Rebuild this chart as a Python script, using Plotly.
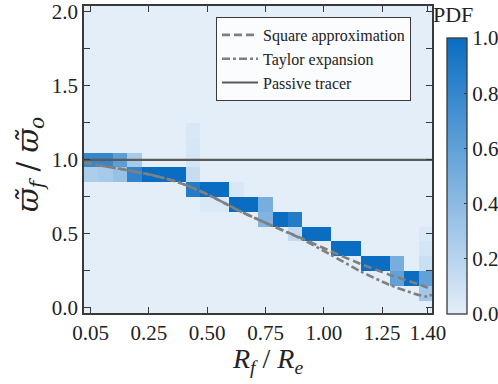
import plotly.graph_objects as go

# ---------------- data ----------------
# x bins are indexed 0..23; labelled at selected indices
x_tick_idx = [0, 4, 8, 12, 16, 20, 23.15]
x_tick_text = ["0.05", "0.25", "0.50", "0.75", "1.00", "1.25", "1.40"]
n_cols = 24
y_bins = [round(0.1 * i, 1) for i in range(21)]  # 0.0 .. 2.0
y_tick_vals = [0, 0.5, 1.0, 1.5, 2.0]
y_tick_text = ["0.0", "0.5", "1.0", "1.5", "2.0"]
cb_tick_vals = [0, 0.2, 0.4, 0.6, 0.8, 1.0]
cb_tick_text = ["0.0", "0.2", "0.4", "0.6", "0.8", "1.0"]

# non-zero PDF cells: column index, row value, pdf
cell_col = [0, 0, 1, 1, 2, 2, 3, 3, 4, 5, 6,
            7, 7, 7, 7, 7, 8, 9, 8, 9, 10,
            10, 11, 12, 12, 13, 14, 14, 15, 16, 17, 18,
            19, 20, 21, 21, 22, 23, 23, 23, 23, 23]
cell_row = [1.0, 0.9, 1.0, 0.9, 1.0, 0.9, 1.0, 0.9, 0.9, 0.9, 0.9,
            1.2, 1.1, 1.0, 0.9, 0.8, 0.8, 0.8, 0.7, 0.7, 0.8,
            0.7, 0.7, 0.7, 0.6, 0.6, 0.6, 0.5, 0.5, 0.5, 0.4, 0.4,
            0.3, 0.3, 0.3, 0.2, 0.2, 0.5, 0.4, 0.3, 0.2, 0.1]
cell_pdf = [0.80, 0.25, 0.80, 0.28, 0.62, 0.35, 0.28, 0.82, 1.0, 1.0, 1.0,
            0.05, 0.06, 0.07, 0.14, 0.88, 1.0, 1.0, 0.04, 0.04, 0.05,
            1.0, 1.0, 0.50, 0.45, 1.0, 0.88, 0.15, 1.0, 1.0, 1.0, 1.0,
            1.0, 1.0, 0.50, 0.60, 1.0, 0.04, 0.07, 0.12, 0.60, 0.30]

# model curves (x in bin-index units)
sq_x = [-0.46, 2.0, 4.1, 6.1, 8.2, 10.2, 12.3, 14.4, 16.4, 18.5, 20.5, 22.6, 23.43]
sq_y = [0.980, 0.939, 0.899, 0.845, 0.757, 0.655, 0.561, 0.473, 0.385, 0.297, 0.223, 0.155, 0.122]
ty_x = [-0.46, 2.0, 4.1, 6.1, 8.2, 10.2, 12.3, 14.4, 16.4, 18.5, 20.5, 21.6, 22.6, 23.1, 23.43]
ty_y = [0.980, 0.939, 0.899, 0.845, 0.757, 0.655, 0.561, 0.468, 0.362, 0.247, 0.155, 0.115, 0.084, 0.076, 0.088]
pt_x = [-0.46, 23.45]
pt_y = [1.0, 1.0]

# ---------------- build matrix ----------------
z = [[0.0] * n_cols for _ in y_bins]
for c, r, p in zip(cell_col, cell_row, cell_pdf):
    z[y_bins.index(r)][c] = p

FONT = "'Liberation Serif', 'Times New Roman', Times, serif"
AX = "#3a3a3a"
PW = 498 - 84 - 66
PH = 384 - 6 - 71

fig = go.Figure()
fig.add_trace(go.Heatmap(
    z=z, x=list(range(n_cols)), y=y_bins, zmin=0, zmax=1,
    colorscale=[[0, "#e3eef9"], [1, "#0a6dc1"]],
    showscale=True, hoverinfo="skip",
    colorbar=dict(
        thickness=20, len=276 / PH, lenmode="fraction",
        x=(447 - 84) / PW, xanchor="left", xpad=0,
        y=(313 - 314) / PH, yanchor="bottom", ypad=0,
        outlinewidth=1.3, outlinecolor=AX,
        tickvals=cb_tick_vals, ticktext=cb_tick_text,
        ticks="inside", ticklen=3, tickcolor=AX,
        tickfont=dict(family=FONT, size=21, color="#222"),
    ),
    showlegend=False,
))

fig.add_trace(go.Scatter(x=sq_x, y=sq_y, mode="lines", name="Square approximation",
                         line=dict(color="#808080", width=2.6, dash="8px,4px", shape="spline", smoothing=0.8)))
fig.add_trace(go.Scatter(x=ty_x, y=ty_y, mode="lines", name="Taylor expansion",
                         line=dict(color="#808080", width=2.6, dash="8px,3px,3px,3px", shape="spline", smoothing=0.8)))
fig.add_trace(go.Scatter(x=pt_x, y=pt_y, mode="lines", name="Passive tracer",
                         line=dict(color="#5a5a5a", width=2.2)))

fig.add_annotation(text="PDF", xref="paper", yref="paper",
                   x=(453 - 84) / PW, y=(313 - 14) / PH, showarrow=False,
                   xanchor="center", yanchor="middle",
                   font=dict(family=FONT, size=22, color="#222"))

fig.add_annotation(text="<i>R</i><sub><i>f</i></sub> / <i>R</i><sub><i>e</i></sub>",
                   xref="paper", yref="paper",
                   x=(267 - 84) / PW, y=(313 - 341) / PH, showarrow=False,
                   xanchor="center", yanchor="top",
                   font=dict(family=FONT, size=28, color="#222"))

fig.add_annotation(text="<i>ϖ̃</i><sub><i>f</i></sub> / <i>ϖ̃</i><sub><i>o</i></sub>",
                   xref="paper", yref="paper", textangle=-90,
                   x=(30 - 84) / PW, y=(313 - 165) / PH, showarrow=False,
                   xanchor="center", yanchor="middle",
                   font=dict(family="'DejaVu Serif', serif", size=29, color="#222"))

fig.update_layout(
    width=498, height=384,
    margin=dict(l=84, r=66, t=6, b=71, autoexpand=False),
    paper_bgcolor="white", plot_bgcolor="#e3eef9",
    font=dict(family=FONT, size=21, color="#222"),
    legend=dict(
        x=(216 - 84) / PW, y=(313 - 17) / PH,
        xanchor="left", yanchor="top",
        bgcolor="rgba(255,255,255,0.8)", bordercolor=AX, borderwidth=1,
        font=dict(family=FONT, size=16, color="#222"),
        itemwidth=36, tracegroupgap=0,
    ),
    xaxis=dict(
        range=[-0.46, 23.43], tickvals=x_tick_idx, ticktext=x_tick_text,
        showline=True, linecolor=AX, linewidth=1.6, mirror="ticks",
        ticks="inside", ticklen=6, tickwidth=1.4, tickcolor=AX,
        showgrid=False, zeroline=False,
        tickfont=dict(family=FONT, size=21),
    ),
    yaxis=dict(
        range=[-0.036, 2.04], tickvals=y_tick_vals, ticktext=y_tick_text,
        showline=True, linecolor=AX, linewidth=1.6, mirror="ticks",
        ticks="inside", ticklen=6, tickwidth=1.4, tickcolor=AX,
        minor=dict(dtick=0.25, tick0=0, ticks="inside", ticklen=6, tickwidth=1.4, tickcolor=AX, showgrid=False),
        showgrid=False, zeroline=False,
        tickfont=dict(family=FONT, size=21),
    ),
)

fig.write_html("out.html")
